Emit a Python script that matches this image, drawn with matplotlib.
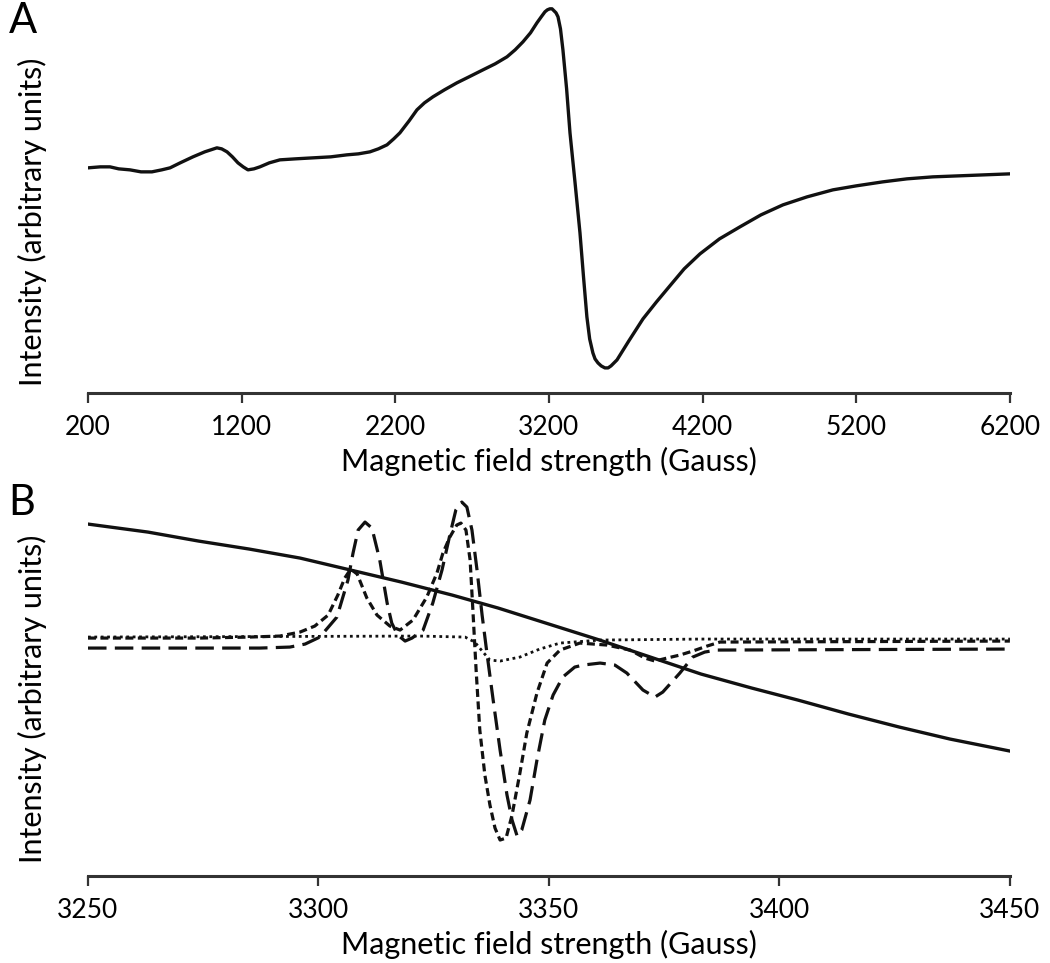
import matplotlib
matplotlib.use('Agg')
import matplotlib.pyplot as plt

plt.rcParams['font.family'] = ['Lato', 'DejaVu Sans']

# Panel A: full-range EPR spectrum
field_a = [200, 280, 343, 400, 473, 545, 616, 680, 734, 800, 883, 960, 1039, 1070, 1105,
           1140, 1176, 1210, 1241, 1280, 1319, 1380, 1449, 1550, 1664, 1780, 1885, 1960,
           2035, 2090, 2146, 2190, 2230, 2290, 2341, 2390, 2445, 2520, 2601, 2680, 2771,
           2850, 2927, 2980, 3031, 3080, 3122, 3150, 3174, 3190, 3206, 3220, 3233, 3246,
           3259, 3275, 3291, 3315, 3337, 3370, 3402, 3425, 3447, 3465, 3486, 3500, 3519,
           3540, 3564, 3585, 3604, 3643, 3720, 3812, 3900, 3987, 4080, 4183, 4310, 4443,
           4580, 4723, 4880, 5048, 5200, 5373, 5530, 5699, 5950, 6200]
intensity_a = [-1, 0, 0, -2, -3, -5, -5, -3, -1, 4, 10, 15, 19, 18, 15,
               10, 4, 0, -3, -2, 0, 4, 7, 8, 9, 10, 12, 13,
               15, 18, 22, 28, 34, 46, 57, 64, 70, 77, 84, 90, 97,
               103, 110, 117, 125, 134, 144, 150, 155, 157, 158, 158, 156, 154,
               150, 138, 117, 78, 34, -16, -66, -110, -150, -172, -186, -192, -196,
               -199, -201, -201, -199, -193, -174, -152, -135, -119, -102, -87, -72, -60,
               -48, -38, -30, -23, -19, -15, -12, -10, -8.5, -7]
ticks_a = [200, 1200, 2200, 3200, 4200, 5200, 6200]

# Panel B: zoom around g ~ 2
field_solid = [3250, 3263, 3274, 3285, 3296, 3307, 3318, 3329, 3339, 3350, 3361, 3372,
               3383, 3394, 3404, 3415, 3426, 3437, 3450]
solid_b = [114, 106, 97, 89, 80, 68, 56, 43, 30, 14, -2, -19,
           -36, -50, -62, -76, -89, -101, -113]

field_short = [3250, 3274.3, 3285.1, 3291.6, 3296.0, 3299.2, 3302.1, 3304.2, 3305.7, 3307.0,
               3308.4, 3310.5, 3312.7, 3315.5, 3317.7, 3320.5, 3323.5, 3325.7, 3327.0, 3328.5,
               3330.0, 3330.9, 3332.0, 3332.9, 3333.5, 3334.2, 3335.0, 3336.1, 3337.2, 3338.3,
               3339.4, 3340.7, 3342.0, 3343.7, 3345.2, 3347.4, 3349.6, 3352.4, 3356.7, 3362.6,
               3367.6, 3370.8, 3373.0, 3375.6, 3378.4, 3381.2, 3384.3, 3387.1, 3450]
short_b = [0, 0, 1, 2, 6, 12, 23, 43, 60, 69,
           64, 40, 23, 12, 8, 18, 41, 65, 85, 101,
           113, 115, 108, 78, 28, -32, -92, -137, -167, -190,
           -202, -200, -177, -135, -95, -55, -25, -12, -5, -7,
           -12, -20, -23, -20, -17, -13, -8, -4, -3]

field_long = [3250, 3287.3, 3293.8, 3297.1, 3300.3, 3304.0, 3306.4, 3307.5, 3308.6, 3310.1,
              3311.6, 3313.3, 3314.9, 3315.9, 3317.2, 3318.8, 3320.3, 3322.7, 3324.8, 3326.8,
              3328.5, 3329.8, 3331.1, 3332.2, 3333.3, 3334.4, 3335.5, 3336.6, 3337.9, 3339.4,
              3340.9, 3342.0, 3343.1, 3344.1, 3345.9, 3347.4, 3349.1, 3350.9, 3353.0, 3355.6,
              3357.4, 3361.1, 3364.3, 3366.9, 3370.4, 3373.0, 3374.7, 3378.4, 3381.2, 3383.8,
              3386.4, 3450]
long_b = [-10, -10, -9, -6, 1, 21, 58, 85, 108, 116,
          110, 78, 35, 15, 3, -3, 0, 8, 35, 68,
          103, 128, 136, 131, 108, 68, 23, -17, -62, -112,
          -157, -182, -198, -192, -162, -122, -82, -57, -39, -29,
          -27, -25, -27, -35, -52, -59, -54, -35, -19, -14,
          -12, -11]

field_dot = [3250, 3322.0, 3331.8, 3333.9, 3335.7, 3337.2, 3339.4, 3343.7, 3348.0, 3352.4,
             3361.1, 3382.8, 3450]
dot_b = [1, 2, 1, -4, -14, -22, -23, -19, -11, -5, -2, -1, -1]
ticks_b = [3250, 3300, 3350, 3400, 3450]

line_color = '#111111'
axis_color = '#333333'


def style_axis(ax, ticks, xlim, ylim):
    for side in ['top', 'right', 'left']:
        ax.spines[side].set_visible(False)
    ax.spines['bottom'].set_color(axis_color)
    ax.spines['bottom'].set_linewidth(2.2)
    ax.set_xlim(xlim)
    ax.set_ylim(ylim)
    ax.set_xticks(ticks)
    ax.set_yticks([])
    ax.tick_params(axis='x', direction='out', length=7, width=1.6, color=axis_color,
                   labelsize=19, pad=9)
    ax.set_xlabel('Magnetic field strength (Gauss)', fontsize=22, labelpad=5)
    ax.set_ylabel('Intensity (arbitrary units)', fontsize=22)


fig = plt.figure(figsize=(10.5, 9.63), dpi=100)

# Panel A
ax1 = fig.add_axes([0.0838, 0.592, 0.878, 0.403])
ax1.plot(field_a, intensity_a, '-', color=line_color, lw=2.4, solid_joinstyle='round')
style_axis(ax1, ticks_a, (200, 6200), (-226, 162))
ax1.yaxis.set_label_coords(-0.044, 0.44)
fig.text(0.008, 0.978, 'A', fontsize=30, va='center', ha='left')

# Panel B
ax2 = fig.add_axes([0.0838, 0.0903, 0.878, 0.3956])
ax2.plot(field_solid, solid_b, '-', color=line_color, lw=2.4)
ax2.plot(field_long, long_b, color=line_color, lw=2.3, dashes=(5.8, 2.6), dash_capstyle='butt')
ax2.plot(field_short, short_b, color=line_color, lw=2.3, dashes=(2.5, 1.4), dash_capstyle='butt')
ax2.plot(field_dot, dot_b, color=line_color, lw=2.0, dashes=(1.0, 1.3), dash_capstyle='butt')
style_axis(ax2, ticks_b, (3250, 3450), (-238, 143))
ax2.yaxis.set_label_coords(-0.044, 0.465)
fig.text(0.008, 0.478, 'B', fontsize=30, va='center', ha='left')

fig.savefig('out.png', dpi=100)
